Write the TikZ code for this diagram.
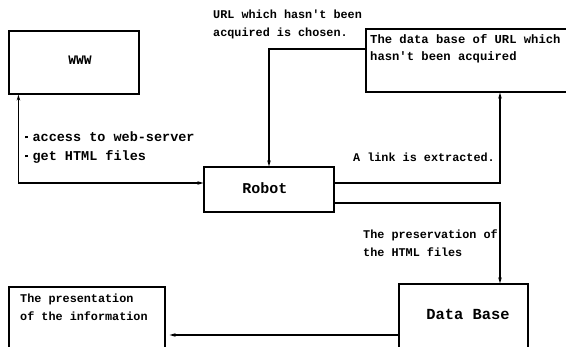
\documentclass[tikz,border=0pt]{standalone}
\usepackage{fontspec}
\setmainfont{Liberation Mono}
\usetikzlibrary{arrows.meta}
\newcommand{\bdot}{\raisebox{3.5pt}{\rule{2.4pt}{2.4pt}}\hspace{5pt}}
\begin{document}
\begin{tikzpicture}[x=1pt,y=-1pt,
  box/.style={draw,line width=1.1pt,rectangle,inner sep=0pt},
  conn/.style={line width=1.1pt,-{Stealth[length=6pt,width=3.5pt]}},
  lbl/.style={inner sep=0pt,align=left,font=\bfseries\fontsize{11.8}{17.5}\selectfont}
]
\useasboundingbox (0,0) rectangle (566,347);
% boxes
\node[box,minimum width=130pt,minimum height=63pt] (www) at (74,62.5) {};
\node[font=\bfseries\fontsize{13}{14}\selectfont,inner sep=0pt] (wwwtext) at (80,60) {WWW};
\node[box,minimum width=209pt,minimum height=63pt] (urldb) at (470.5,60.5) {};
\node[lbl,anchor=north west,font=\bfseries\fontsize{12.2}{17}\selectfont] (urltext) at (370,34) {The data base of URL which\\hasn\textquotesingle t been acquired};
\node[box,minimum width=130pt,minimum height=45pt] (robot) at (269,189.5) {};
\node[font=\bfseries\fontsize{15}{16}\selectfont,inner sep=0pt] (robottext) at (265,188) {Robot};
\node[box,minimum width=129pt,minimum height=76pt] (db) at (463.5,322) {};
\node[font=\bfseries\fontsize{15.4}{16}\selectfont,inner sep=0pt] (dbtext) at (468,314) {Data Base};
\node[box,minimum width=156pt,minimum height=73pt] (pres) at (87,323.5) {};
\node[lbl,anchor=north west] (prestext) at (20,294) {The presentation\\of the information};
% labels
\node[lbl,anchor=north west] (choose) at (213,10) {URL which hasn\textquotesingle t been\\acquired is chosen.};
\node[lbl,anchor=north west,font=\bfseries\fontsize{13.5}{19}\selectfont] (access) at (25,132) {\bdot access to web-server\\\bdot get HTML files};
\node[lbl,anchor=east] (link) at (495,157) {A link is extracted.};
\node[lbl,anchor=north west] (preserve) at (363,230) {The preservation of\\the HTML files};
% connectors
\draw[conn,{Stealth[length=6pt,width=3.5pt]}-{Stealth[length=6pt,width=3.5pt]}] ([xshift=10pt]www.south west) |- ([yshift=6.5pt]robot.west);
\draw[conn] ([yshift=11.5pt]urldb.west) -| (robot.north);
\draw[conn] ([yshift=6.5pt]robot.east) -| ([xshift=29.5pt]urldb.south);
\draw[conn] ([yshift=-13.5pt]robot.east) -| ([xshift=36.5pt]db.north);
\draw[conn,shorten >=4pt] ([yshift=-13pt]db.west) -- ([yshift=-11.5pt]pres.east);
\end{tikzpicture}
\end{document}
